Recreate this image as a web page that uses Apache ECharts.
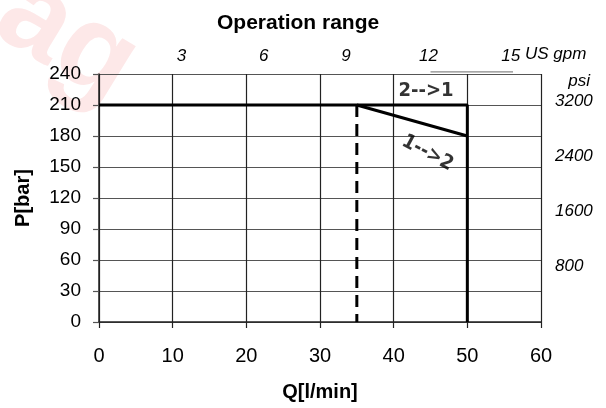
<!DOCTYPE html>
<html>
<head>
<meta charset="utf-8">
<script src="https://cdn.jsdelivr.net/npm/echarts@6/dist/echarts.min.js"></script>
<style>html,body{margin:0;padding:0;background:#fff}#c{width:606px;height:408px}</style>
</head>
<body>
<div id="c"></div>
<script>
// Operating envelope (Q [l/min], P [bar])
var outerLimit = [[0, 210], [50, 210], [50, 0]];
var slopeLimit = [[35, 210], [50, 180]];
var dashedLimit = [[35, 210], [35, 0]];
var strayLine = [[45, 242], [56.2, 242]];
var annotations = [
  { text: '2-->1', pos: [44.4, 223.5], rotate: 0 },
  { text: '1-->2', pos: [44.6, 163.5], rotate: -28 }
];
var gpmTicks = [3, 6, 9, 12, 15];
var psiTicks = [800, 1600, 2400, 3200];
var gpmAxisMax = 16.1;   // secondary scale as drawn in the figure
var psiAxisMax = 3590;
var xMax = 60, yMax = 240;

var chart = echarts.init(document.getElementById('c'));
var font = 'Liberation Sans, Arial, sans-serif';
chart.setOption({
  animation: false,
  backgroundColor: '#fff',
  title: {
    text: 'Operation range', left: 212, top: 8,
    textStyle: { fontFamily: font, fontWeight: 'bold', fontSize: 21, color: '#000' }
  },
  graphic: [{
    type: 'text', left: -24, top: -48, rotation: -0.55, silent: true, z: -10,
    style: { text: 'ag', fontSize: 120, fontWeight: 'bold', fontFamily: font, fill: '#fde8e8' }
  }, {
    type: 'text', left: 525, top: 46, silent: true,
    style: { text: 'US gpm', fontSize: 17, fontStyle: 'italic', fontFamily: font, fill: '#000' }
  }, {
    type: 'text', right: 16, top: 73, silent: true,
    style: { text: 'psi', fontSize: 17, fontStyle: 'italic', fontFamily: font, fill: '#000' }
  }],
  grid: { left: 99, right: 65, top: 74, bottom: 86 },
  xAxis: [{
    type: 'value', position: 'bottom', min: 0, max: xMax, interval: 10,
    name: 'Q[l/min]', nameLocation: 'middle', nameGap: 60,
    nameTextStyle: { fontFamily: font, fontWeight: 'bold', fontSize: 20, color: '#000' },
    axisLine: { show: true, onZero: false, lineStyle: { color: '#222', width: 1.5 } },
    axisTick: { show: true, inside: false, length: 6, lineStyle: { color: '#222', width: 1.2 } },
    axisLabel: { fontFamily: font, fontSize: 20, color: '#000', margin: 24 },
    splitLine: { show: true, lineStyle: { color: '#222', width: 1.2 } }
  }, {
    type: 'value', position: 'top', min: 0, max: gpmAxisMax, interval: 3,
    axisLine: { show: false }, axisTick: { show: false }, splitLine: { show: false },
    axisLabel: {
      fontFamily: font, fontStyle: 'italic', fontSize: 17, color: '#000', margin: 9,
      formatter: function (v) { return gpmTicks.indexOf(Math.round(v)) >= 0 ? String(Math.round(v)) : ''; }
    }
  }],
  yAxis: [{
    type: 'value', position: 'left', min: 0, max: yMax, interval: 30,
    name: 'P[bar]', nameLocation: 'middle', nameGap: 66, nameRotate: 90,
    nameTextStyle: { fontFamily: font, fontWeight: 'bold', fontSize: 20, color: '#000' },
    axisLine: { show: true, lineStyle: { color: '#222', width: 1.5 } },
    axisTick: { show: true, inside: false, length: 6, lineStyle: { color: '#555', width: 1.2 } },
    axisLabel: { fontFamily: font, fontSize: 19, color: '#000', margin: 18 },
    splitLine: { show: true, lineStyle: { color: '#555', width: 1.2 } }
  }, {
    type: 'value', position: 'right', min: 0, max: psiAxisMax, interval: 800,
    axisLine: { show: false }, axisTick: { show: false }, splitLine: { show: false },
    axisLabel: {
      fontFamily: font, fontStyle: 'italic', fontSize: 17, color: '#000', margin: 14,
      formatter: function (v) { return psiTicks.indexOf(Math.round(v)) >= 0 ? String(Math.round(v)) : ''; }
    }
  }],
  series: [{
    type: 'line', data: outerLimit, showSymbol: false, symbol: 'none',
    lineStyle: { color: '#000', width: 3 }, z: 5
  }, {
    type: 'line', data: slopeLimit, showSymbol: false, symbol: 'none',
    lineStyle: { color: '#000', width: 3 }, z: 5
  }, {
    type: 'line', data: dashedLimit, showSymbol: false, symbol: 'none',
    lineStyle: { color: '#000', width: 3, type: [12, 7] }, z: 5
  }, {
    type: 'line', data: strayLine, showSymbol: false, symbol: 'none', clip: false,
    lineStyle: { color: '#888', width: 1.2 }, z: 4
  }, {
    type: 'scatter', symbolSize: 0, z: 6,
    data: annotations.map(function (a) {
      return {
        value: a.pos,
        label: {
          show: true, position: 'inside', formatter: a.text, rotate: a.rotate,
          fontFamily: 'DejaVu Sans Condensed, sans-serif', fontWeight: 'bold', fontSize: 20, color: '#000'
        }
      };
    })
  }]
});
</script>
</body>
</html>
